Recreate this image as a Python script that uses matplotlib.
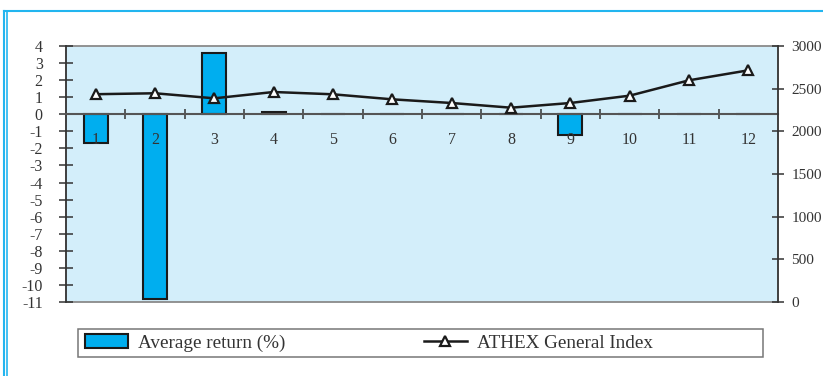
import matplotlib
matplotlib.use("Agg")
import matplotlib.pyplot as plt
from matplotlib.lines import Line2D
from matplotlib.patches import Rectangle
from matplotlib.ticker import FixedLocator

plt.rcParams['font.family'] = ['Liberation Serif', 'DejaVu Serif']
plt.rcParams['axes.unicode_minus'] = False

months = [1, 2, 3, 4, 5, 6, 7, 8, 9, 10, 11, 12]
avg_return = [-1.7, -10.8, 3.6, 0.14, 0, 0, 0, 0, -1.2, 0, 0, 0]
athex_index = [2435, 2446, 2387, 2461, 2434, 2375, 2332, 2277, 2332, 2418, 2598, 2715]
left_ticks = list(range(-11, 5))
right_ticks = [0, 500, 1000, 1500, 2000, 2500, 3000]

W, H = 823, 376
fig = plt.figure(figsize=(W / 100, H / 100), dpi=100)
ax = fig.add_axes([66 / W, (H - 302) / H, (778 - 66) / W, (302 - 46) / H])
ax2 = ax.twinx()

bg = '#D3EEFA'
barc = '#00AEEF'
ax.set_facecolor(bg)

ax.bar(months, avg_return, width=0.4, color=barc, edgecolor='#1a1a1a', linewidth=1.5, zorder=1)
ax.set_xlim(0.5, 12.5)
ax.set_ylim(-11, 4)
ax.yaxis.set_major_locator(FixedLocator(left_ticks))
ax.set_yticklabels([str(v) for v in left_ticks])

# zero axis
for s in ['top', 'right']:
    ax.spines[s].set_visible(False)
ax.spines['bottom'].set_position(('data', 0))
ax.spines['bottom'].set_color('#555555')
ax.spines['bottom'].set_linewidth(1.5)
ax.spines['left'].set_color('#333333')
ax.spines['left'].set_linewidth(1.2)
ax.add_patch(Rectangle((0, 0), 1, 1, transform=ax.transAxes, fill=False,
                       edgecolor='#8a8a8a', linewidth=1.3, zorder=0.9, clip_on=False))

ax.set_xticks(months)
ax.set_xticklabels([str(m) for m in months])
ax.set_xticks([m + 0.5 for m in months[:-1]], minor=True)
ax.tick_params(axis='x', which='major', length=0, pad=13, labelsize=11.5, colors='#333333')
ax.tick_params(axis='x', which='minor', direction='inout', length=7, width=1.1, color='#333333')
ax.tick_params(axis='y', direction='inout', length=9.5, width=1.1, pad=12, labelsize=11.5,
               color='#333333', labelcolor='#333333')

ax2.plot(months, athex_index, color='#1a1a1a', linewidth=1.8, marker='^', markersize=7,
         markerfacecolor='white', markeredgecolor='#1a1a1a', markeredgewidth=1.6)
ax2.set_ylim(0, 3000)
ax2.yaxis.set_major_locator(FixedLocator(right_ticks))
ax2.set_yticklabels([str(v) for v in right_ticks])
for s in ['top', 'left', 'bottom']:
    ax2.spines[s].set_visible(False)
ax2.spines['right'].set_color('#333333')
ax2.spines['right'].set_linewidth(1.2)
ax2.tick_params(axis='y', direction='inout', length=8, width=1.1, pad=5.5, labelsize=11,
                color='#333333', labelcolor='#333333')

# legend box
fig.add_artist(Rectangle((78 / W, (H - 357) / H), (763 - 78) / W, 28 / H,
                         transform=fig.transFigure, fill=False, edgecolor='#777777', linewidth=1.1))
fs = 13.8
handles = [Rectangle((0, 0), 1, 1, facecolor=barc, edgecolor='#1a1a1a', linewidth=1.5),
           Line2D([], [], color='#1a1a1a', linewidth=1.8, marker='^', markersize=7,
                  markerfacecolor='white', markeredgecolor='#1a1a1a', markeredgewidth=1.6)]
leg = fig.legend(handles, ['Average return (%)', 'ATHEX General Index'],
                 loc='center left', ncol=2, frameon=False,
                 bbox_to_anchor=(85 / W, (H - 343) / H),
                 fontsize=fs, handlelength=43 / (fs * 100 / 72), handletextpad=0.5,
                 columnspacing=139 / (fs * 100 / 72), borderaxespad=0, borderpad=0)
for t in leg.get_texts():
    t.set_color('#333333')

# outer blue frame
fc = '#22B5EF'
fig.add_artist(Line2D([4 / W, 1], [1 - 11 / H, 1 - 11 / H], color=fc, linewidth=1.5, transform=fig.transFigure))
fig.add_artist(Line2D([4 / W, 4 / W], [0, 1 - 11 / H], color=fc, linewidth=1.5, transform=fig.transFigure))
fig.add_artist(Line2D([6.5 / W, 6.5 / W], [0, 1 - 11 / H], color=fc, linewidth=1.2, transform=fig.transFigure))

fig.savefig('out.png', dpi=100)
